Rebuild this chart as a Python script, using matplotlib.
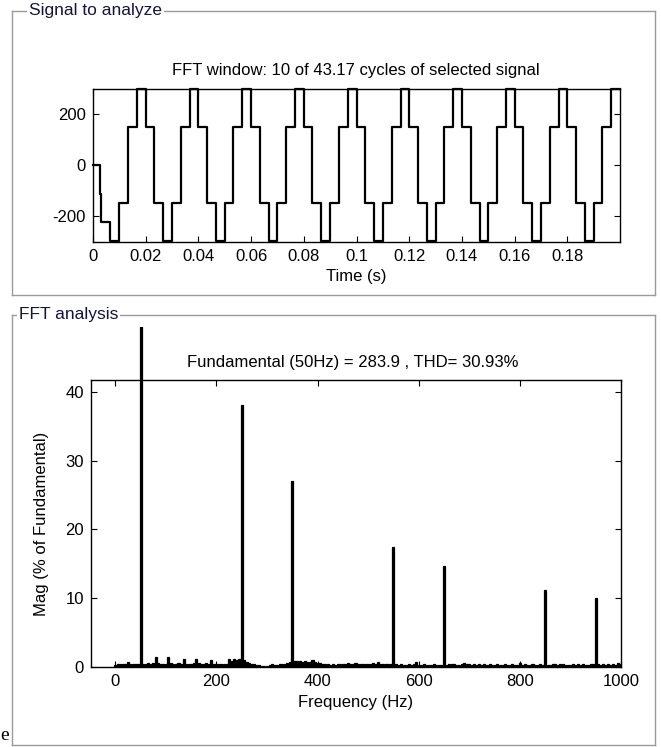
import numpy as np
import matplotlib
matplotlib.use('Agg')
import matplotlib.pyplot as plt
from matplotlib.lines import Line2D
from matplotlib.transforms import Bbox, TransformedBbox

plt.rcParams['font.family'] = ['Liberation Sans', 'DejaVu Sans']
plt.rcParams['font.size'] = 12
plt.rcParams['axes.unicode_minus'] = False

# Signal to analyze: step change times (s) and the level that starts there
step_times = [0.0, 0.00256, 0.00308, 0.00641, 0.00987, 0.01333, 0.01667,
              0.0200, 0.0233, 0.0267, 0.0300, 0.0333, 0.0367,
              0.0400, 0.0433, 0.0467, 0.0500, 0.0533, 0.0567,
              0.0600, 0.0633, 0.0667, 0.0700, 0.0733, 0.0767,
              0.0800, 0.0833, 0.0867, 0.0900, 0.0933, 0.0967,
              0.1000, 0.1033, 0.1067, 0.1100, 0.1133, 0.1167,
              0.1200, 0.1233, 0.1267, 0.1300, 0.1333, 0.1367,
              0.1400, 0.1433, 0.1467, 0.1500, 0.1533, 0.1567,
              0.1600, 0.1633, 0.1667, 0.1700, 0.1733, 0.1767,
              0.1800, 0.1833, 0.1867, 0.1900, 0.1933, 0.1967,
              0.2000]
step_levels = [0, -115, -227, -300, -150, 150, 300,
               150, -150, -300, -150, 150, 300,
               150, -150, -300, -150, 150, 300,
               150, -150, -300, -150, 150, 300,
               150, -150, -300, -150, 150, 300,
               150, -150, -300, -150, 150, 300,
               150, -150, -300, -150, 150, 300,
               150, -150, -300, -150, 150, 300,
               150, -150, -300, -150, 150, 300,
               150, -150, -300, -150, 150, 300,
               300]

time_ticks = [0, 0.02, 0.04, 0.06, 0.08, 0.1, 0.12, 0.14, 0.16, 0.18]
time_labels = ['0', '0.02', '0.04', '0.06', '0.08', '0.1', '0.12', '0.14', '0.16', '0.18']

# FFT analysis: magnitude (% of fundamental) every 5 Hz from 0 to 1000 Hz
freqs = np.arange(0, 1001, 5)
mags = [0.3, 0.4, 0.4, 0.4, 0.5, 0.7, 0.5, 0.5, 0.5, 0.5,
        100.0, 0.5, 0.5, 0.6, 0.5, 0.6, 1.5, 0.6, 0.5, 0.5,
        0.5, 1.4, 0.6, 0.5, 0.5, 0.6, 0.5, 1.2, 0.5, 0.5,
        0.5, 0.6, 1.2, 0.6, 0.5, 0.5, 0.6, 0.5, 1.0, 0.5,
        0.5, 0.4, 0.5, 0.4, 0.5, 1.1, 0.9, 1.2, 1.0, 1.1,
        38.1, 1.0, 0.7, 0.6, 0.5, 0.4, 0.3, 0.3, 0.2, 0.2,
        0.2, 0.3, 0.5, 0.3, 0.3, 0.4, 0.4, 0.5, 0.6, 0.7,
        27.0, 0.8, 0.8, 0.8, 0.7, 0.8, 0.7, 0.7, 1.0, 0.7,
        0.6, 0.6, 0.5, 0.4, 0.4, 0.3, 0.4, 0.3, 0.5, 0.5,
        0.5, 0.5, 0.6, 0.5, 0.5, 0.6, 0.5, 0.5, 0.5, 0.5,
        0.5, 0.5, 0.6, 0.5, 0.7, 0.5, 0.5, 0.5, 0.4, 0.5,
        17.4, 0.4, 0.3, 0.4, 0.3, 0.3, 0.4, 0.3, 0.4, 0.7,
        0.3, 0.3, 0.4, 0.3, 0.3, 0.3, 0.4, 0.3, 0.3, 0.3,
        14.7, 0.3, 0.4, 0.5, 0.4, 0.3, 0.3, 0.4, 0.6, 0.5,
        0.4, 0.3, 0.4, 0.3, 0.4, 0.3, 0.4, 0.3, 0.4, 0.3,
        0.3, 0.4, 0.3, 0.3, 0.4, 0.3, 0.3, 0.4, 0.3, 0.3,
        0.6, 0.3, 0.4, 0.3, 0.3, 0.4, 0.3, 0.3, 0.4, 0.3,
        11.2, 0.3, 0.3, 0.4, 0.5, 0.3, 0.4, 0.5, 0.3, 0.3,
        0.3, 0.4, 0.3, 0.4, 0.3, 0.4, 0.3, 0.3, 0.4, 0.4,
        10.0, 0.4, 0.3, 0.4, 0.3, 0.4, 0.3, 0.4, 0.3, 0.6,
        0.4]

W, H = 661, 747
fig = plt.figure(figsize=(W / 100, H / 100), dpi=100)


def fx(px):
    return px / W


def fy(py):
    return 1 - py / H


def frame(left, top, right, bottom, label, label_x):
    gray = '#9a9a9a'
    for xs, ys in [([left, right], [top, top]), ([left, left], [top, bottom]),
                   ([right, right], [top, bottom]), ([left, right], [bottom, bottom])]:
        fig.add_artist(Line2D([fx(x) for x in xs], [fy(y) for y in ys],
                              color=gray, lw=1.0, zorder=0))
    fig.text(fx(label_x), fy(top), label, ha='left', va='center', color='#14143c',
             fontsize=12.5, zorder=1,
             bbox=dict(facecolor='white', edgecolor='none', pad=1.5))


frame(12, 11, 655, 295, 'Signal to analyze', 29)
frame(12, 315, 655, 745, 'FFT analysis', 19)


def style_axes(ax):
    for s in ax.spines.values():
        s.set_linewidth(1.0)
        s.set_color('black')
    ax.tick_params(direction='in', top=True, right=True, length=4, width=0.8,
                   labelsize=12, pad=5)


# top panel
ax1 = fig.add_axes([fx(93), fy(242), fx(620) - fx(93), fy(89) - fy(242)])
ax1.plot(step_times, step_levels, drawstyle='steps-post', color='black', lw=1.6,
         clip_on=False)
ax1.set_xlim(0, 0.2)
ax1.set_ylim(-304, 300)
ax1.set_xticks(time_ticks)
ax1.set_xticklabels(time_labels)
ax1.set_yticks([-200, 0, 200])
ax1.set_xlabel('Time (s)', labelpad=4)
style_axes(ax1)
fig.text(fx(356), fy(70), 'FFT window: 10 of 43.17 cycles of selected signal',
         ha='center', va='center', fontsize=12)

# bottom panel
ax2 = fig.add_axes([fx(91), fy(667), fx(621) - fx(91), fy(380) - fy(667)])
bars = ax2.bar(freqs, mags, width=4, color='black', edgecolor='black', lw=0.9)
# the fundamental runs past the axes top, up to the panel border
clip = TransformedBbox(Bbox.from_extents(fx(91), fy(667), fx(621), fy(327)),
                       fig.transFigure)
for b in bars:
    b.set_clip_box(clip)
ax2.set_xlim(-48, 1000)
ax2.set_ylim(0, 41.7)
ax2.set_xticks([0, 200, 400, 600, 800, 1000])
ax2.set_yticks([0, 10, 20, 30, 40])
ax2.set_xlabel('Frequency (Hz)', labelpad=4)
ax2.set_ylabel('Mag (% of Fundamental)', labelpad=12)
style_axes(ax2)
fig.text(fx(353), fy(362), 'Fundamental (50Hz) = 283.9 , THD= 30.93%',
         ha='center', va='center', fontsize=12)

fig.text(fx(0.5), fy(736), 'e', ha='left', va='center', family='Liberation Serif',
         fontsize=14)

fig.savefig('out.png', dpi=100)
